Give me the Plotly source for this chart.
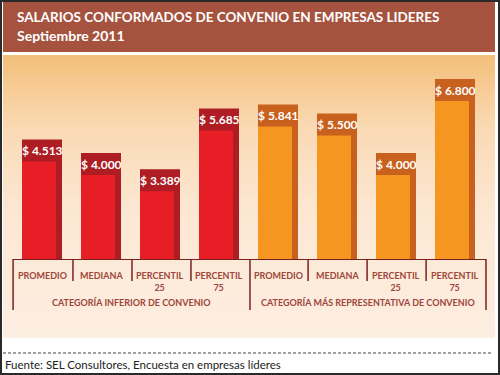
import plotly.graph_objects as go

# ---- data ----
categories = ["PROMEDIO", "MEDIANA", "PERCENTIL<br>25", "PERCENTIL<br>75",
              "PROMEDIO", "MEDIANA", "PERCENTIL<br>25", "PERCENTIL<br>75"]
group_labels = ["CATEGORÍA INFERIOR DE CONVENIO", "CATEGORÍA MÁS REPRESENTATIVA DE CONVENIO"]
values_inferior = [4513, 4000, 3389, 5685]
values_representativa = [5841, 5500, 4000, 6800]
title_line1 = "SALARIOS CONFORMADOS DE CONVENIO EN EMPRESAS LIDERES"
title_line2 = "Septiembre 2011"
source_text = "Fuente: SEL Consultores, Encuesta en empresas líderes"

values = values_inferior + values_representativa
xs = list(range(len(values)))

W, H = 500, 375
RED, RED_DARK = "#E81E26", "#AD1D23"
ORA, ORA_DARK = "#F4961F", "#C9611E"
LABEL_COL = "#9E463B"
LINE_COL = "#7A2020"

bright_cols = [RED] * 4 + [ORA] * 4
dark_cols = [RED_DARK] * 4 + [ORA_DARK] * 4

# pixel mapping helpers (style only)
PX_X0, PX_PER_CAT = 42.0, 59.0
x_range = [-PX_X0 / PX_PER_CAT, (W - PX_X0) / PX_PER_CAT]
BASE_PX = 259.0
UNITS_PER_PX = 6800 / 180.0
y_top = BASE_PX * UNITS_PER_PX
y_dom0 = (H - BASE_PX) / H
BOX_UNITS = 22 * UNITS_PER_PX

def py(px):  # pixel y -> paper
    return 1 - px / H

def px_x(px):
    return px / W

fig = go.Figure()

dark_w = 40 / PX_PER_CAT
bright_w = 34 / PX_PER_CAT
fig.add_trace(go.Bar(x=xs, y=values, width=dark_w, offset=-dark_w / 2,
                     marker=dict(color=dark_cols, line=dict(width=0)),
                     hoverinfo="skip", showlegend=False))
fig.add_trace(go.Bar(x=xs, y=[v - BOX_UNITS for v in values], width=bright_w,
                     offset=-dark_w / 2,
                     marker=dict(color=bright_cols, line=dict(width=0)),
                     hoverinfo="skip", showlegend=False))

annotations = []
for x, v in zip(xs, values):
    annotations.append(dict(
        x=x, y=v - BOX_UNITS / 2, xref="x", yref="y",
        text="$ " + f"{v:,}".replace(",", "."), showarrow=False,
        xanchor="center", yanchor="middle",
        font=dict(family="Lato", size=12, color="white", weight="bold")))

# category labels
for x, c in zip(xs, categories):
    annotations.append(dict(
        x=x, y=py(268), xref="x", yref="paper", text=c, showarrow=False,
        xanchor="center", yanchor="top",
        font=dict(family="Lato", size=9, color=LABEL_COL, weight="bold")))

for gx, g in zip([1.52, 5.52], group_labels):
    annotations.append(dict(
        x=gx, y=py(302), xref="x", yref="paper", text=g, showarrow=False,
        xanchor="center", yanchor="middle",
        font=dict(family="Lato", size=9, color=LABEL_COL, weight="bold")))

# header texts
annotations.append(dict(x=px_x(15), y=py(17), xref="paper", yref="paper",
                        text=title_line1, showarrow=False, xanchor="left", yanchor="middle",
                        font=dict(family="Lato", size=13.5, color="white", weight="bold")))
annotations.append(dict(x=px_x(15), y=py(36), xref="paper", yref="paper",
                        text=title_line2, showarrow=False, xanchor="left", yanchor="middle",
                        font=dict(family="Lato", size=14, color="white", weight="bold")))
annotations.append(dict(x=px_x(3), y=py(364), xref="paper", yref="paper",
                        text=source_text, showarrow=False, xanchor="left", yanchor="middle",
                        font=dict(family="Lato", size=11.5, color="#222222")))

shapes = []
# header band
shapes.append(dict(type="rect", xref="paper", yref="paper", x0=px_x(3), x1=px_x(495),
                   y0=py(52), y1=py(2), fillcolor="#A5533F", line=dict(width=0), layer="below"))

# gradient background of chart area
stops = [(55, (243, 191, 122)), (130, (250, 218, 182)), (210, (252, 231, 210)), (338, (253, 238, 226))]
def col_at(p):
    for (a, ca), (b, cb) in zip(stops[:-1], stops[1:]):
        if a <= p <= b:
            t = (p - a) / (b - a)
            return tuple(round(ca[i] + (cb[i] - ca[i]) * t) for i in range(3))
    return stops[-1][1]
step = 4
p = 55
while p < 338:
    q = min(p + step, 338)
    c = col_at((p + q) / 2)
    shapes.append(dict(type="rect", xref="paper", yref="paper", x0=px_x(3), x1=px_x(495),
                       y0=py(q), y1=py(p), fillcolor="rgb(%d,%d,%d)" % c,
                       line=dict(width=0), layer="below"))
    p = q

# baseline and separators
shapes.append(dict(type="line", xref="x", yref="paper", x0=-0.49, x1=7.525,
                   y0=py(259.5), y1=py(259.5), line=dict(color=LINE_COL, width=1)))
for sx in [-0.49, 3.525, 7.525]:
    shapes.append(dict(type="line", xref="x", yref="paper", x0=sx, x1=sx,
                       y0=py(259), y1=py(310), line=dict(color=LINE_COL, width=1.5)))
for sx in [0.525, 1.525, 2.525, 4.51, 5.51, 6.51]:
    shapes.append(dict(type="line", xref="x", yref="paper", x0=sx, x1=sx,
                       y0=py(259), y1=py(281), line=dict(color=LINE_COL, width=1.5)))

# dashed source line
shapes.append(dict(type="line", xref="paper", yref="paper", x0=px_x(3), x1=px_x(492),
                   y0=py(353), y1=py(353), line=dict(color="#444444", width=1, dash="3px,2px")))

# outer frame
shapes.append(dict(type="rect", xref="paper", yref="paper", x0=0, x1=1, y0=0, y1=1,
                   line=dict(color="#2A2A2A", width=4), fillcolor="rgba(0,0,0,0)"))

fig.update_layout(
    width=W, height=H, margin=dict(l=0, r=0, t=0, b=0),
    paper_bgcolor="white", plot_bgcolor="rgba(0,0,0,0)",
    barmode="overlay",
    xaxis=dict(range=x_range, domain=[0, 1], visible=False, fixedrange=True),
    yaxis=dict(range=[0, y_top], domain=[y_dom0, 1], visible=False, fixedrange=True),
    shapes=shapes, annotations=annotations, showlegend=False,
)

fig.write_html("out.html", config={"displayModeBar": False},
               post_script="document.body.style.margin='0';document.body.style.overflow='hidden';")
